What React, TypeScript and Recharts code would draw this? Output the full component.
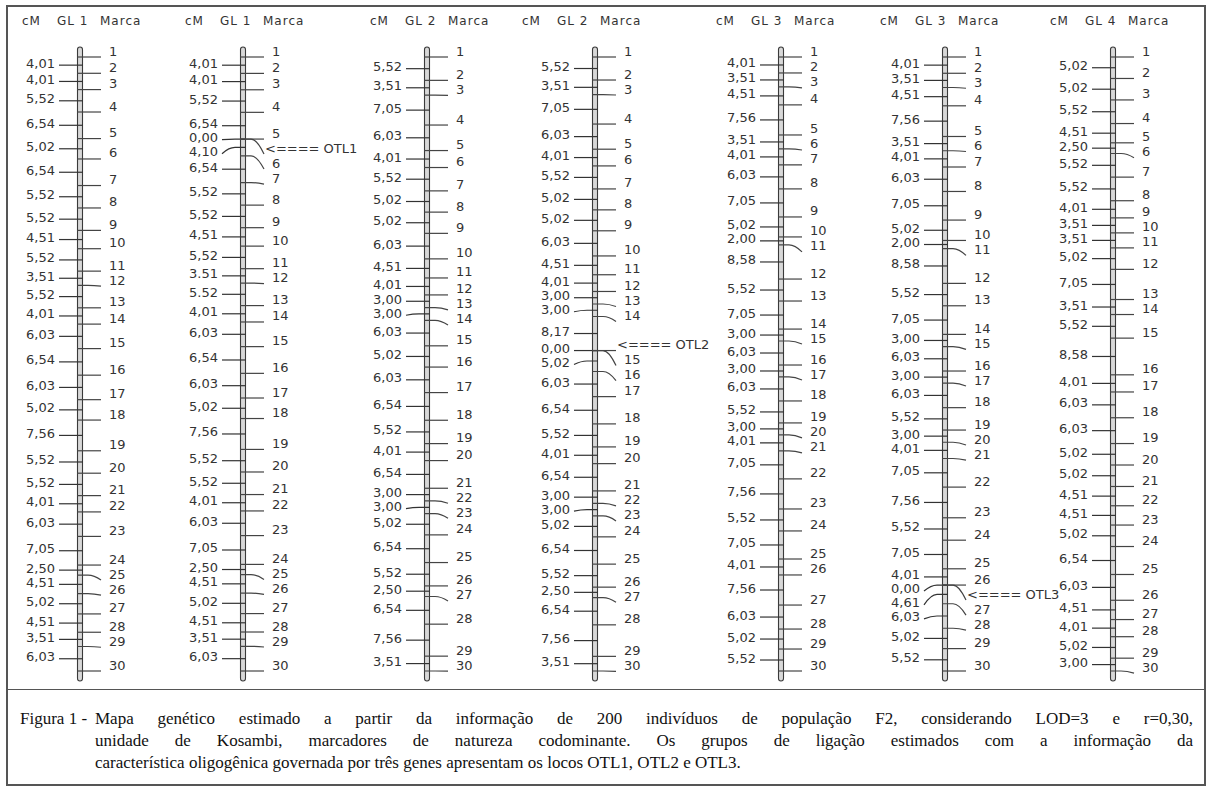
import React from 'react';
import { ScatterChart, Scatter, XAxis, YAxis, ReferenceLine } from 'recharts';

// distancias entre marcas (cM), escritas como na figura
const gl1aIntervals = ['4,01', '4,01', '5,52', '6,54', '5,02', '6,54', '5,52', '5,52', '4,51', '5,52', '3,51', '5,52', '4,01', '6,03', '6,54', '6,03', '5,02', '7,56', '5,52', '5,52', '4,01', '6,03', '7,05', '2,50', '4,51', '5,02', '4,51', '3,51', '6,03'];
const gl1bIntervals = ['4,01', '4,01', '5,52', '6,54', '0,00', '4,10', '6,54', '5,52', '5,52', '4,51', '5,52', '3.51', '5.52', '4,01', '6,03', '6,54', '6,03', '5,02', '7,56', '5,52', '5,52', '4,01', '6,03', '7,05', '2,50', '4,51', '5,02', '4,51', '3,51', '6,03'];
const gl2aIntervals = ['5,52', '3,51', '7,05', '6,03', '4,01', '5,52', '5,02', '5,02', '6,03', '4,51', '4,01', '3,00', '3,00', '6,03', '5,02', '6,03', '6,54', '5,52', '4,01', '6,54', '3,00', '3,00', '5,02', '6,54', '5,52', '2,50', '6,54', '7,56', '3,51'];
const gl2bIntervals = ['5,52', '3,51', '7,05', '6,03', '4,01', '5,52', '5,02', '5,02', '6,03', '4,51', '4,01', '3,00', '3,00', '8,17', '0,00', '5,02', '6,03', '6,54', '5,52', '4,01', '6,54', '3,00', '3,00', '5,02', '6,54', '5,52', '2,50', '6,54', '7,56', '3,51'];
const gl3aIntervals = ['4,01', '3,51', '4,51', '7,56', '3,51', '4,01', '6,03', '7,05', '5,02', '2,00', '8,58', '5,52', '7,05', '3,00', '6,03', '3,00', '6,03', '5,52', '3,00', '4,01', '7,05', '7,56', '5,52', '7,05', '4,01', '7,56', '6,03', '5,02', '5,52'];
const gl3bIntervals = ['4,01', '3,51', '4,51', '7,56', '3,51', '4,01', '6,03', '7,05', '5,02', '2,00', '8,58', '5,52', '7,05', '3,00', '6,03', '3,00', '6,03', '5,52', '3,00', '4,01', '7,05', '7,56', '5,52', '7,05', '4,01', '0,00', '4,61', '6,03', '5,02', '5,52'];
const gl4Intervals = ['5,02', '5,02', '5,52', '4,51', '2,50', '5,52', '5,52', '4,01', '3,51', '3,51', '5,02', '7,05', '3,51', '5,52', '8,58', '4,01', '6,03', '6,03', '5,02', '5,02', '4,51', '4,51', '5,02', '6,54', '6,03', '4,51', '4,01', '5,02', '3,00'];

const markers = ['1', '2', '3', '4', '5', '6', '7', '8', '9', '10', '11', '12', '13', '14', '15', '16', '17', '18', '19', '20', '21', '22', '23', '24', '25', '26', '27', '28', '29', '30'];
const gl1bLoci = [...markers.slice(0, 5), '<==== OTL1', ...markers.slice(5)];
const gl2bLoci = [...markers.slice(0, 14), '<==== OTL2', ...markers.slice(14)];
const gl3bLoci = [...markers.slice(0, 26), '<==== OTL3', ...markers.slice(26)];

const groupTitles = ['GL 1', 'GL 1', 'GL 2', 'GL 2', 'GL 3', 'GL 3', 'GL 4'];

// layout
const BAR_X = [80, 243, 427, 595, 781, 945, 1113];
const HEADER_X = [22, 185, 370, 522, 716, 880, 1050];
const PLOT_TOP = 47;
const PLOT_H = 634;
const EDGE = 10;
const SPACE = 20; // folga para os rotulos nas pontas
const CHART_W = 260;
const FONT = '"DejaVu Sans", Verdana, sans-serif';

const spread = (vals: number[], gap: number) => {
  const out: number[] = [];
  vals.forEach((v, i) => out.push(i === 0 ? v : Math.max(v, out[i - 1] + gap)));
  return out;
};

interface GroupProps {
  intervals: string[];
  loci: string[];
  barX: number;
}

const LinkageGroup: React.FC<GroupProps> = ({ intervals, loci, barX }) => {
  const dist = intervals.map((s) => parseFloat(s.replace(',', '.')));
  const pos = [0];
  dist.forEach((d) => pos.push(pos[pos.length - 1] + d));
  const total = pos[pos.length - 1];
  const k = (PLOT_H - 2 * EDGE) / total; // px por cM
  const pad = EDGE / k;

  const mids = dist.map((d, i) => pos[i] + d / 2);
  const leftPos = spread(mids, 14 / k);
  const rightPos = spread(pos, 15 / k);

  const leftData = dist.map((d, i) => ({ x: 0, y: mids[i], ly: leftPos[i], label: intervals[i] }));
  const rightData = loci.map((l, i) => ({ x: 0, y: pos[i], ly: rightPos[i], label: l }));

  const renderBar = (p: any) => {
    const top = Math.min(p.y1, p.y2);
    const h = Math.abs(p.y2 - p.y1);
    return <rect x={p.x1 - 2.5} y={top} width={5} height={h} rx={2.5} fill="#d8d8d8" stroke="#3a3a3a" strokeWidth={1.1} />;
  };

  const renderLeft = (p: any) => {
    const { cx, cy, payload } = p;
    const ly = cy + (payload.ly - payload.y) * k;
    return (
      <g>
        <path d={`M${cx + 3},${cy} L${cx - 8},${cy} Q${cx - 14},${cy} ${cx - 21},${ly}`} stroke="#333" strokeWidth={1.2} fill="none" />
        <text x={cx - 25} y={ly - 2} textAnchor="end" dominantBaseline="central" fontSize={13} fontFamily={FONT} fill="#333">
          {payload.label}
        </text>
      </g>
    );
  };

  const renderRight = (p: any) => {
    const { cx, cy, payload } = p;
    const ly = cy + (payload.ly - payload.y) * k;
    const isOtl = payload.label.indexOf('OTL') >= 0;
    return (
      <g>
        <path d={`M${cx - 3},${cy} L${cx + 8},${cy} Q${cx + 14},${cy} ${cx + 21},${ly}`} stroke="#444" strokeWidth={1.2} fill="none" />
        <text x={isOtl ? cx + 22 : cx + 29} y={ly - 6} dominantBaseline="central" fontSize={13} fontFamily={FONT} fill="#333">
          {payload.label}
        </text>
      </g>
    );
  };

  return (
    <div style={{ position: 'absolute', left: barX - CHART_W / 2, top: PLOT_TOP - SPACE }}>
      <ScatterChart width={CHART_W} height={PLOT_H + 2 * SPACE} margin={{ top: SPACE, right: 0, bottom: SPACE, left: 0 }}>
        <XAxis type="number" dataKey="x" domain={[-1, 1]} hide />
        <YAxis type="number" dataKey="y" domain={[-pad, total + pad]} reversed hide />
        <ReferenceLine x={0} shape={renderBar} />
        <Scatter data={leftData} shape={renderLeft} isAnimationActive={false} />
        <Scatter data={rightData} shape={renderRight} isAnimationActive={false} />
      </ScatterChart>
    </div>
  );
};

const groups = [
  { intervals: gl1aIntervals, loci: markers },
  { intervals: gl1bIntervals, loci: gl1bLoci },
  { intervals: gl2aIntervals, loci: markers },
  { intervals: gl2bIntervals, loci: gl2bLoci },
  { intervals: gl3aIntervals, loci: markers },
  { intervals: gl3bIntervals, loci: gl3bLoci },
  { intervals: gl4Intervals, loci: markers },
];

const headerStyle: React.CSSProperties = {
  position: 'absolute',
  top: 14,
  fontFamily: FONT,
  fontSize: 12,
  letterSpacing: 1,
  color: '#333',
  whiteSpace: 'nowrap',
};

const justified: React.CSSProperties = { textAlign: 'justify', textAlignLast: 'justify' };

export default function App() {
  return (
    <div style={{ position: 'absolute', left: 0, top: 0, width: 1213, height: 791, overflow: 'hidden', background: '#fff' }}>
      <div style={{ position: 'absolute', left: 6, top: 5, width: 1200, height: 781, border: '2px solid #555', boxSizing: 'border-box' }} />
      <div style={{ position: 'absolute', left: 6, top: 689, width: 1200, borderTop: '1.5px solid #555' }} />

      {groups.map((g, i) => (
        <React.Fragment key={i}>
          <div style={{ ...headerStyle, left: HEADER_X[i] }}>cM</div>
          <div style={{ ...headerStyle, left: HEADER_X[i] + 35 }}>{groupTitles[i]}</div>
          <div style={{ ...headerStyle, left: HEADER_X[i] + 78 }}>Marca</div>
          <LinkageGroup intervals={g.intervals} loci={g.loci} barX={BAR_X[i]} />
        </React.Fragment>
      ))}

      <div style={{ position: 'absolute', left: 20, top: 708, width: 1173, display: 'flex', fontFamily: '"Liberation Serif", "Times New Roman", serif', fontSize: 17, lineHeight: '22px', color: '#111' }}>
        <div style={{ width: 75, flex: 'none', whiteSpace: 'nowrap' }}>Figura 1 -</div>
        <div style={{ flex: 1 }}>
          <div style={justified}>
            Mapa genético estimado a partir da informação de 200 indivíduos de população F2, considerando LOD=3 e r=0,30,
          </div>
          <div style={justified}>
            unidade de Kosambi, marcadores de natureza codominante. Os grupos de ligação estimados com a informação da
          </div>
          <div>característica oligogênica governada por três genes apresentam os locos OTL1, OTL2 e OTL3.</div>
        </div>
      </div>
    </div>
  );
}
